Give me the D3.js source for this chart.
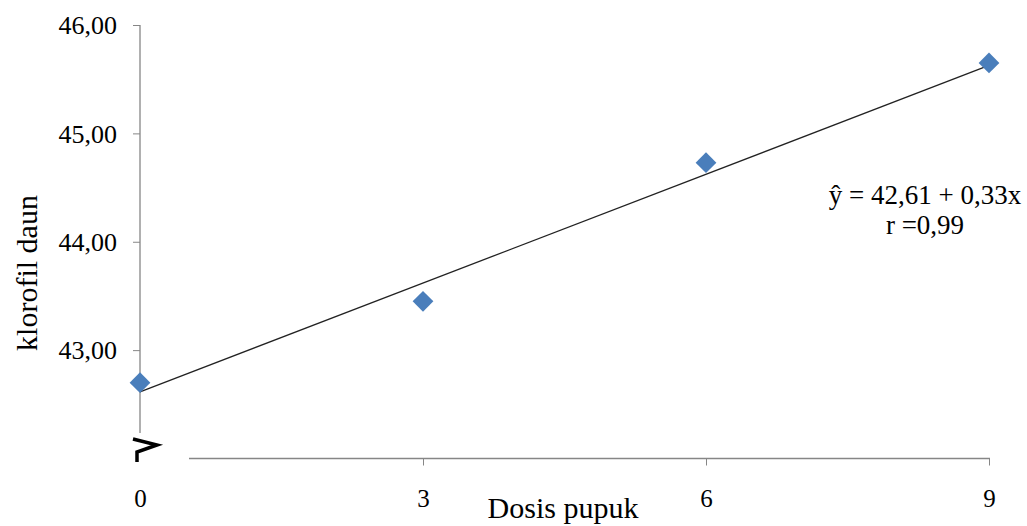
<!DOCTYPE html>
<html>
<head>
<meta charset="utf-8">
<script src="https://cdn.jsdelivr.net/npm/d3@7"></script>
<style>
  body { margin: 0; background: #fff; }
  text { font-family: "Liberation Serif", "Times New Roman", serif; fill: #000; }
</style>
</head>
<body>
<svg id="chart" width="1027" height="526"></svg>
<script>
const doses = [0, 3, 6, 9];
const chlorophyll = [42.70, 43.45, 44.73, 45.65];
const trendX = [0, 9];
const trendY = [42.615, 45.627];
const yTicks = [43, 44, 45, 46];
const xTicks = [0, 3, 6, 9];
const equation = ["ŷ = 42,61 + 0,33x", "r =0,99"];

const axisColor = "#868686";
const markerColor = "#4A7EBB";

const svg = d3.select("#chart");

const x = d3.scaleLinear().domain([0, 9]).range([140, 989]);
const y = d3.scaleLinear().domain([42, 46]).range([458.5, 25]);
const fmt = d => d3.format(".2f")(d).replace(".", ",");

// y axis
const gy = svg.append("g")
  .attr("transform", "translate(140,0)")
  .call(d3.axisLeft(y).tickValues(yTicks).tickSize(7).tickPadding(16).tickFormat(fmt));
gy.select(".domain").remove();
gy.selectAll(".tick line").attr("stroke", axisColor);
gy.selectAll(".tick text")
  .attr("font-size", 26)
  .attr("font-family", "Liberation Serif")
  .attr("dy", "0.34em");
svg.append("line")
  .attr("x1", 140).attr("x2", 140)
  .attr("y1", y(46)).attr("y2", 433)
  .attr("stroke", axisColor).attr("stroke-width", 1.3);

// x axis
const gx = svg.append("g")
  .attr("transform", `translate(0,${y(42)})`)
  .call(d3.axisBottom(x).tickValues(xTicks).tickSize(7).tickPadding(24).tickFormat(d3.format("d")));
gx.select(".domain").remove();
gx.selectAll(".tick line")
  .attr("stroke", axisColor)
  .attr("opacity", d => d === 0 ? 0 : 1);
gx.selectAll(".tick text")
  .attr("font-size", 25)
  .attr("font-family", "Liberation Serif");
svg.append("line")
  .attr("x1", 189).attr("x2", x(9) + 1)
  .attr("y1", y(42)).attr("y2", y(42))
  .attr("stroke", axisColor).attr("stroke-width", 1.3);

// axis break mark
svg.append("path")
  .attr("d", "M133,439 L157,445 L137,452 L137,462")
  .attr("fill", "none")
  .attr("stroke", "#000")
  .attr("stroke-width", 3.5)
  .attr("stroke-linejoin", "miter");

// trend line
const pts = trendX.map((d, i) => [x(d), y(trendY[i])]);
svg.append("path")
  .attr("d", d3.line()(pts))
  .attr("stroke", "#222")
  .attr("stroke-width", 1.3)
  .attr("fill", "none");

// data markers
svg.selectAll("path.pt")
  .data(doses)
  .join("path")
  .attr("class", "pt")
  .attr("d", d3.symbol().type(d3.symbolSquare).size(215))
  .attr("transform", (d, i) => `translate(${x(d)},${y(chlorophyll[i])}) rotate(45)`)
  .attr("fill", markerColor);

// equation
svg.selectAll("text.eq")
  .data(equation)
  .join("text")
  .attr("class", "eq")
  .attr("x", 925)
  .attr("y", (d, i) => 204 + i * 30)
  .attr("text-anchor", "middle")
  .attr("font-size", 27)
  .text(d => d);

// axis titles
svg.append("text")
  .attr("x", 563).attr("y", 518)
  .attr("text-anchor", "middle")
  .attr("font-size", 30)
  .text("Dosis pupuk");

svg.append("text")
  .attr("transform", "translate(37,273) rotate(-90)")
  .attr("text-anchor", "middle")
  .attr("font-size", 30)
  .text("klorofil daun");
</script>
</body>
</html>
